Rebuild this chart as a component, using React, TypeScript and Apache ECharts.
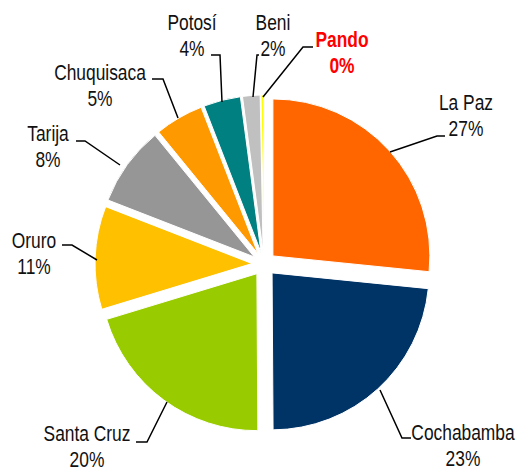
import React, { useEffect, useRef } from "react";
import * as echarts from "echarts";

const departments = ["La Paz", "Cochabamba", "Santa Cruz", "Oruro", "Tarija", "Chuquisaca", "Potosí", "Beni", "Pando"];
const shares = [26.6, 23.3, 20.4, 10.6, 8.2, 5.0, 3.8, 1.8, 0.3];
const colors = ["#FF6600", "#003366", "#99CC00", "#FFC000", "#969696", "#FF9900", "#008080", "#C0C0C0", "#FFFF00"];

// label layout (pixel positions of label centres and their leader lines)
const labelLayouts: Record<string, { x: number; y: number; line: number[][] }> = {
  "La Paz": { x: 466, y: 115, line: [[390, 152], [437, 136], [445, 136]] },
  "Cochabamba": { x: 463, y: 445, line: [[380, 390], [402, 438], [411, 438]] },
  "Santa Cruz": { x: 87, y: 446, line: [[167, 402], [147, 442], [136, 442]] },
  "Oruro": { x: 34, y: 253, line: [[97, 260], [72, 245], [62, 245]] },
  "Tarija": { x: 48, y: 146, line: [[120, 165], [85, 141], [76, 141]] },
  "Chuquisaca": { x: 100, y: 85, line: [[178, 118], [163, 79], [152, 79]] },
  "Potosí": { x: 192, y: 35, line: [[222, 102], [220, 55], [211, 55]] },
  "Beni": { x: 273, y: 35, line: [[253, 97], [257, 55], [259, 55]] },
  "Pando": { x: 342, y: 52, line: [[263, 97], [303, 47], [313, 47]] },
};

export default function App() {
  const ref = useRef<HTMLDivElement>(null);
  useEffect(() => {
    if (!ref.current) return;
    const chart = echarts.init(ref.current, null, { renderer: "svg" });
    const family = "'Liberation Sans', Arial, sans-serif";
    const total = shares.reduce((a, b) => a + b, 0);
    const graphics: any[] = [];
    departments.forEach((name, i) => {
      const l = labelLayouts[name];
      const isPando = name === "Pando";
      graphics.push({
        type: "polyline",
        shape: { points: l.line },
        style: { stroke: "#000000", lineWidth: 1.5, fill: null },
        z: 10,
      });
      graphics.push({
        type: "text",
        x: l.x,
        y: l.y,
        scaleX: 0.79,
        z: 10,
        style: {
          text: `${name}\n${Math.round((shares[i] / total) * 100)}%`,
          font: `${isPando ? "bold " : ""}22px ${family}`,
          lineHeight: 26,
          align: "center",
          verticalAlign: "middle",
          fill: isPando ? "#FF0000" : "#111111",
        },
      });
    });
    chart.setOption({
      animation: false,
      backgroundColor: "#ffffff",
      graphic: graphics,
      series: [
        {
          type: "pie",
          center: [264, 264],
          radius: [0, 157],
          startAngle: 90,
          clockwise: true,
          selectedMode: "multiple",
          selectedOffset: 12,
          itemStyle: { borderColor: "#ffffff", borderWidth: 1 },
          label: { show: false },
          labelLine: { show: false },
          emphasis: { disabled: true },
          data: departments.map((name, i) => ({
            name,
            value: shares[i],
            selected: true,
            itemStyle: { color: colors[i] },
          })),
        },
      ],
    });
    return () => chart.dispose();
  }, []);
  return (
    <div
      ref={ref}
      style={{ position: "absolute", left: 0, top: 0, width: 517, height: 470 }}
    />
  );
}
